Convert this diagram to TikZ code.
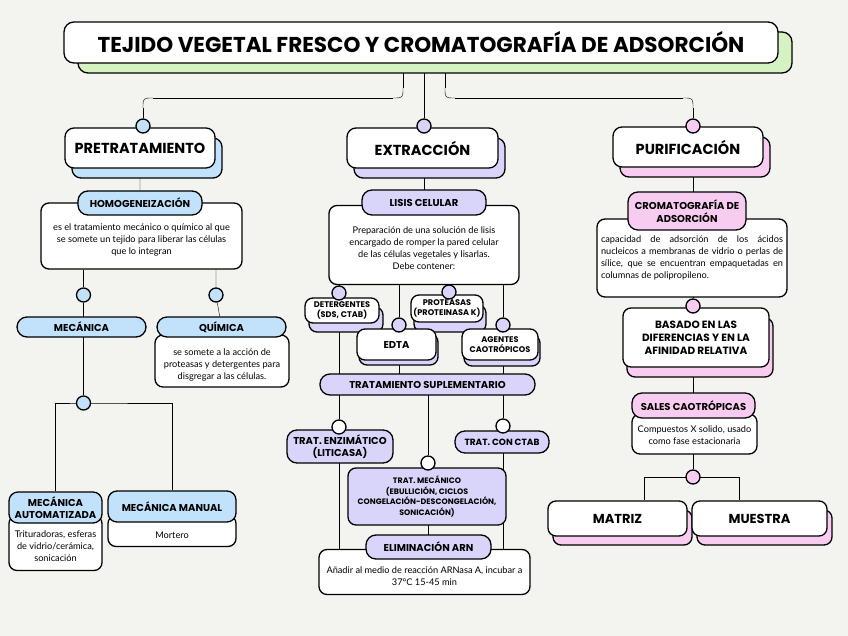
\documentclass[tikz,border=0pt]{standalone}
\usepackage{fontspec}
\setmainfont{Lato}
\newfontfamily\hfont{Poppins}
\usetikzlibrary{shadows}
\definecolor{bgc}{HTML}{F3F3F0}
\definecolor{blu}{HTML}{C2E2FB}
\definecolor{lav}{HTML}{D9D5FA}
\definecolor{pnk}{HTML}{F8CCF1}
\definecolor{grn}{HTML}{D5F2C2}
\pgfdeclarelayer{back}
\pgfsetlayers{back,main}
\newcommand\dn[1]{\strut\\[-#1pt]}
\tikzset{
  wh/.style 2 args={minimum width=#1pt,minimum height=#2pt},
  box/.style={draw,fill=white,line width=1.3pt,rounded corners=8pt,inner sep=2pt,align=center},
  hd/.style={font=\hfont\bfseries\fontsize{#1}{\dimexpr#1pt+2.5pt\relax}\selectfont},
  shad/.style n args={3}{copy shadow={shadow xshift=#2pt,shadow yshift=-#3pt,fill=#1,draw=black,line width=1.3pt}},
  titlebox/.style={box,rounded corners=10pt,hd=21.5,shad={grn}{14}{10}},
  sec/.style={box,rounded corners=9pt,hd=14.5,shad={#1}{7}{10}},
  pill/.style={box,fill=#1,rounded corners=10pt,hd=10},
  txt/.style={box,font=\fontsize{9.2}{12}\selectfont},
  dot/.style={circle,draw,line width=1.3pt,fill=#1,minimum size=14pt,inner sep=0pt}
}
\begin{document}
\begin{tikzpicture}[x=1pt,y=-1pt,line width=1.3pt]
\begin{pgfonlayer}{back}
\fill[bgc] (0,0) rectangle (848,636);
\end{pgfonlayer}
\useasboundingbox (0,0) rectangle (848,636);
% title and sections
\node[titlebox,wh={714}{41}] (title) at (421,42.5) {TEJIDO VEGETAL FRESCO Y CROMATOGRAFÍA DE ADSORCIÓN};
\node[sec=blu,wh={150}{40}] (pre) at (140,148) {PRETRATAMIENTO};
\node[sec=lav,wh={151}{40}] (ext) at (422.5,148) {EXTRACCIÓN};
\node[sec=pnk,wh={150}{40}] (pur) at (688,147) {PURIFICACIÓN};
% pretratamiento
\node[txt,wh={201}{66}] (homoD) at (141.5,236) {\dn{5}es el tratamiento mecánico o químico al que\\se somete un tejido para liberar las células\\que lo integran};
\node[pill=blu,wh={124}{24}] (homo) at (140,203) {HOMOGENEIZACIÓN};
\node[txt,wh={134}{52}] (quiD) at (222,361) {\dn{5}se somete a la acción de\\proteasas y detergentes para\\disgregar a las células.};
\node[pill=blu,wh={129}{20}] (mec) at (81.5,327) {MECÁNICA};
\node[pill=blu,wh={129}{20}] (qui) at (221.5,327) {QUÍMICA};
\node[txt,wh={93}{55}] (autoD) at (55.5,543) {\dn{7}Trituradoras, esferas\\de vidrio/cerámica,\\sonicación};
\node[txt,wh={128}{31}] (manD) at (172,531) {\dn{5}Mortero};
\node[pill=blu,wh={93}{31},rounded corners=9pt] (auto) at (55.5,507.5) {MECÁNICA\\AUTOMATIZADA};
\node[pill=blu,wh={128}{31},rounded corners=9pt] (manual) at (172,506.5) {MECÁNICA MANUAL};
% extraccion
\node[txt,wh={190}{79}] (lisD) at (424,245) {\dn{7}Preparación de una solución de lisis\\encargado de romper la pared celular\\de las células vegetales y lisarlas.\\Debe contener:};
\node[pill=lav,wh={124}{25}] (lisis) at (424,202.5) {LISIS CELULAR};
\node[box,hd=8.2,wh={74}{25},shad={lav}{4}{9}] (det) at (342,310.5) {DETERGENTES\\(SDS, CTAB)};
\node[box,hd=8.2,wh={72}{27},shad={lav}{3}{10}] (prot) at (447,308.5) {PROTEASAS\\(PROTEINASA K)};
\node[box,hd=10,wh={79}{31},shad={lav}{2}{5}] (edta) at (396.5,344.5) {EDTA};
\node[box,hd=8.2,wh={76}{31},shad={lav}{2}{6}] (ag) at (500,344.5) {AGENTES\\CAOTRÓPICOS};
\node[pill=lav,wh={215}{21}] (sup) at (427.5,384.5) {TRATAMIENTO SUPLEMENTARIO};
\node[pill=lav,wh={106}{33}] (enz) at (340,446.5) {TRAT. ENZIMÁTICO\\(LITICASA)};
\node[pill=lav,wh={94}{22},hd=9] (ctab) at (502,442) {TRAT. CON CTAB};
\node[box,fill=lav,hd=7.9,wh={158}{57}] (mech) at (427,496.5) {TRAT. MECÁNICO\\(EBULLICIÓN, CICLOS\\CONGELACIÓN-DESCONGELACIÓN,\\SONICACIÓN)};
\node[txt,wh={211}{45}] (elimD) at (424.5,572) {\dn{5}Añadir al medio de reacción ARNasa A, incubar a\\37°C 15-45 min};
\node[pill=lav,wh={125}{24}] (elim) at (428.5,547) {ELIMINACIÓN ARN};
% purificacion
\node[txt,wh={190}{78},text width=182pt,align=justify] (cromD) at (692,258) {capacidad de adsorción de los ácidos\linebreak nucleicos a membranas de vidrio o perlas de\linebreak sílice, que se encuentran empaquetadas en\linebreak columnas de polipropileno.};
\node[pill=pnk,wh={118}{38}] (crom) at (687,211) {CROMATOGRAFÍA DE\\ADSORCIÓN};
\node[box,hd=10.5,wh={146}{59},shad={pnk}{4}{10}] (bas) at (696,337.5) {BASADO EN LAS\\DIFERENCIAS Y EN LA\\AFINIDAD RELATIVA};
\node[txt,wh={125}{40}] (salD) at (694.5,434) {\dn{11}Compuestos X solido, usado\\como fase estacionaria};
\node[pill=pnk,wh={123}{25}] (sal) at (693.5,405.5) {SALES CAOTRÓPICAS};
\node[box,hd=13,wh={139}{35},shad={pnk}{5}{9}] (matriz) at (617.5,518.5) {MATRIZ};
\node[box,hd=13,wh={135}{35},shad={pnk}{5}{9}] (muestra) at (759.5,518.5) {MUESTRA};
% dots
\node[dot=blu] (dP) at (143,126) {};
\node[dot=lav] (dE) at (424,126) {};
\node[dot=pnk] (dU) at (693,126) {};
\node[dot=blu] (dMec) at (83.5,295) {};
\node[dot=blu] (dQui) at (216,295) {};
\node[dot=blu] (dMec2) at (83.5,403) {};
\node[dot=lav] (dDet) at (339,293) {};
\node[dot=lav] (dEdta) at (399,325) {};
\node[dot=lav] (dProt) at (449,292) {};
\node[dot=lav] (dAg) at (503,325) {};
\node[dot=white] (dEnz) at (339,427) {};
\node[dot=white] (dMech) at (428,463) {};
\node[dot=white] (dCtab) at (503,426) {};
\node[dot=pnk] (dBas) at (693,306) {};
\node[dot=pnk] (dSal) at (693,477) {};
\coordinate (tL) at (403,60);
\coordinate (tR) at (445,60);
% connectors
\begin{pgfonlayer}{back}
\draw (tL) -- (403,88);
\draw (403,88) .. controls (403,98) .. (393,98);
\draw (393,98) -- (153,98);
\draw (153,98) .. controls (143,98) .. (143,108);
\draw (143,108) -- (dP);
\draw (title.south -| dE) -- (dE);
\draw (tR) -- (445,88);
\draw (445,88) .. controls (445,98) .. (455,98);
\draw (455,98) -- (683,98);
\draw (683,98) .. controls (693,98) .. (693,108);
\draw (693,108) -- (dU);
\draw (dP) -- (pre) -- (homo);
\draw (homoD.south -| dMec) -- (dMec) -- (dMec2);
\draw (homoD.south -| dQui) -- (dQui) -- (qui);
\draw (auto) |- (dMec2.center) -| (manual);
\draw (dE) -- (dE |- lisis);
\draw (lisD.south -| dDet) -- (dDet) -- (dEnz);
\draw (lisD.south -| dEdta) -- (dEdta) -- (dEdta |- sup);
\draw (lisD.south -| dProt) -- (dProt);
\draw (lisD.south -| dAg) -- (dAg) -- (dCtab) -- (dCtab |- elimD);
\draw (dEnz) -- (dEnz |- elimD);
\draw (sup.center -| dMech) -- (dMech) -- (dMech |- elim);
\draw (dU) -- (dBas) -- (dSal);
\draw (dSal.center) -| ([xshift=-49pt]dSal.center |- matriz.north);
\draw (dSal.center) -| ([xshift=46pt]dSal.center |- muestra.north);
\end{pgfonlayer}
\end{tikzpicture}
\end{document}
